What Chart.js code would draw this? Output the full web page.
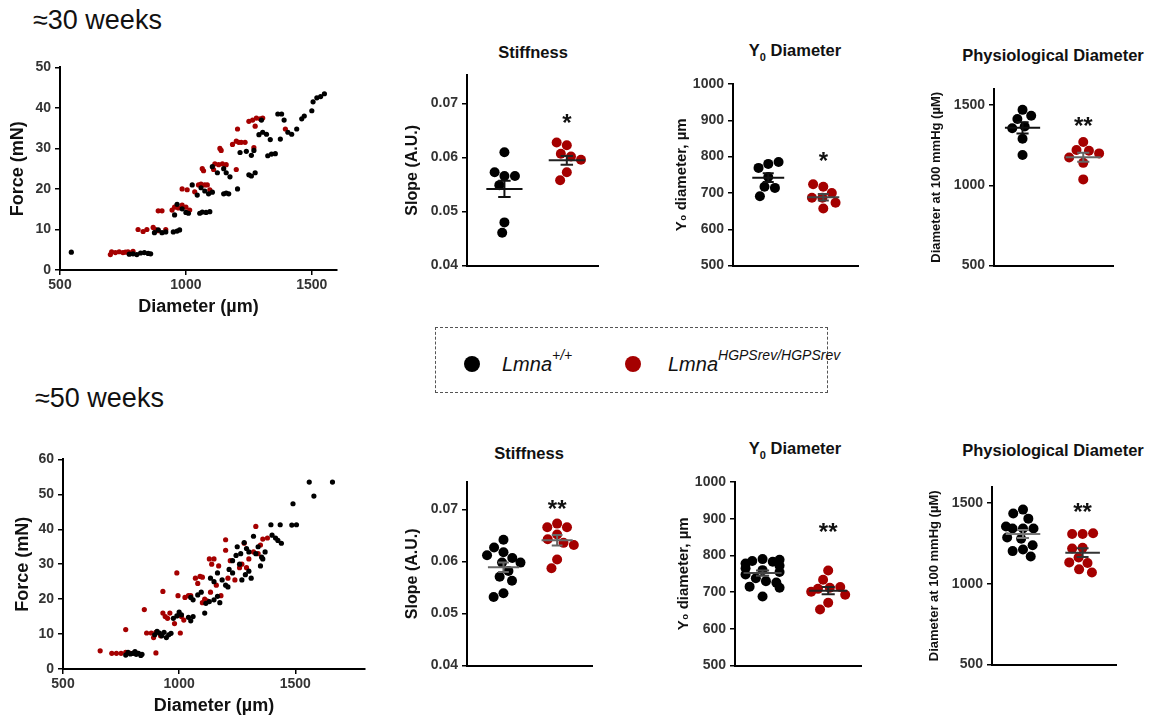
<!DOCTYPE html>
<html lang="en">
<head>
<meta charset="UTF-8">
<title>Lmna arteries - stiffness and diameter</title>
<script src="https://cdn.jsdelivr.net/npm/chart.js"></script>
<style>
    body { margin: 0; background: #fff; font-family: "Liberation Sans", Arial, sans-serif; }
    #page { position: relative; width: 1156px; height: 720px; overflow: hidden; }
    canvas { position: absolute; }
    .age { position: absolute; font-size: 27px; color: #111; }
    .ptitle { position: absolute; font-weight: bold; font-size: 16.5px; color: #111;
              transform: translate(-50%, -50%); white-space: nowrap; }
    .ptitle sub { font-size: 11px; }
    #legend { position: absolute; left: 435px; top: 327px; width: 391px; height: 64px;
              border: 1px dashed #555; }
    .ldot { position: absolute; width: 16px; height: 16px; border-radius: 50%; top: 28px; }
    .ltext { position: absolute; top: 22px; font-size: 20px; font-style: italic; color: #111; }
    .ltext sup { font-size: 14px; position: relative; top: -3px; }
</style>
</head>
<body>
<div id="page">
    <div class="age" style="left:33px; top:5px;">≈30 weeks</div>
    <div class="age" style="left:35px; top:383px;">≈50 weeks</div>

    <div class="ptitle" style="left:533px; top:52px;">Stiffness</div>
    <div class="ptitle" style="left:795px; top:52px;">Y<sub>0</sub> Diameter</div>
    <div class="ptitle" style="left:1053px; top:55px;">Physiological Diameter</div>
    <div class="ptitle" style="left:529px; top:453px;">Stiffness</div>
    <div class="ptitle" style="left:795px; top:450px;">Y<sub>0</sub> Diameter</div>
    <div class="ptitle" style="left:1053px; top:450px;">Physiological Diameter</div>

    <div id="legend">
        <div class="ldot" style="left:28px; background:#000;"></div>
        <div class="ltext" style="left:66px;">Lmna<sup>+/+</sup></div>
        <div class="ldot" style="left:189px; background:#a50000;"></div>
        <div class="ltext" style="left:232px;">Lmna<sup>HGPSrev/HGPSrev</sup></div>
    </div>

    <canvas id="scatter30"></canvas>
    <canvas id="stiff30"></canvas>
    <canvas id="y030"></canvas>
    <canvas id="phys30"></canvas>
    <canvas id="scatter50"></canvas>
    <canvas id="stiff50"></canvas>
    <canvas id="y050"></canvas>
    <canvas id="phys50"></canvas>
</div>

<script>
    const WT_COLOR = "#000000";
    const HG_COLOR = "#a50000";
    const FONT = '"Liberation Sans", Arial, sans-serif';
    Chart.defaults.font.family = FONT;

    // tick labels
    const diamTicks = [500, 1000, 1500];
    const force30Ticks = [0, 10, 20, 30, 40, 50];
    const force50Ticks = [0, 10, 20, 30, 40, 50, 60];
    const slopeTicks = [0.04, 0.05, 0.06, 0.07];
    const y0Ticks = [500, 600, 700, 800, 900, 1000];
    const physTicks = [500, 1000, 1500];

    // --- force / diameter curves, [diameter, force] ---
    const wt30 = [[545,4.4],[775,3.9],[790,4.0],[805,3.8],[820,4.2],[835,4.3],[850,4.1],[860,4.0],
        [875,9.2],[890,9.9],[905,9.2],[920,9.4],[950,9.4],[965,9.6],[975,9.9],
        [955,13.6],[965,16.2],[985,15.1],[1000,14.2],[1010,14.0],
        [1055,14.0],[1065,14.3],[1080,14.2],[1095,14.4],
        [1025,21.0],[1045,18.5],[1060,20.3],[1075,19.5],[1090,18.8],[1105,19.2],
        [1150,18.8],[1160,19.0],[1170,18.8],[1205,20.0],
        [1105,25.5],[1125,24.0],[1150,25.0],[1160,24.0],[1175,23.0],[1250,23.5],[1260,23.2],[1275,24.0],
        [1215,29.0],[1240,29.3],[1260,28.3],[1270,29.5],[1325,28.2],[1340,28.6],[1355,28.7],
        [1290,33.4],[1305,34.0],[1320,33.5],[1335,32.2],[1375,32.3],[1405,34.0],[1420,33.5],[1440,34.8],
        [1300,37.0],[1365,38.5],[1380,38.5],[1390,37.0],[1460,37.3],[1470,38.0],[1500,39.3],
        [1505,41.5],[1520,42.5],[1535,42.8],[1550,43.5]];
    const hg30 = [[700,3.8],[705,4.5],[720,4.3],[735,4.5],[750,4.3],[760,4.4],[770,4.5],[780,4.2],[790,4.6],
        [810,10.0],[830,9.5],[845,10.0],[870,10.5],[880,10.0],[890,9.7],[920,10.0],
        [890,14.6],[905,14.6],[945,14.8],[955,15.5],[970,15.3],[985,16.0],[1000,15.5],[1015,14.8],
        [985,20.0],[1005,19.8],[1035,19.3],[1050,21.0],[1060,21.2],[1075,21.0],[1085,21.0],[1095,19.8],
        [1065,25.0],[1070,24.5],[1110,24.8],[1115,26.2],[1130,26.0],[1145,26.2],[1160,26.0],[1200,24.8],
        [1135,30.0],[1140,29.5],[1185,31.0],[1200,31.8],[1210,31.5],[1220,31.5],[1235,31.5],[1270,30.2],
        [1205,34.8],[1250,36.7],[1265,37.0],[1280,37.5],[1295,37.3],[1305,37.5],[1275,35.5],[1395,34.8]];
    const wt50 = [[770,4.0],[780,4.8],[790,4.3],[800,4.5],[810,5.0],[815,4.2],[825,4.5],[835,3.9],[840,4.2],
        [895,9.8],[905,10.8],[915,10.3],[925,9.5],[935,10.5],[945,9.0],[955,9.8],[965,10.2],
        [975,14.5],[990,15.2],[1000,16.3],[1010,15.5],[1040,14.8],[1050,13.8],[1060,15.0],
        [1050,20.5],[1060,19.8],[1080,21.2],[1095,22.0],[1110,16.0],[1115,18.8],[1130,19.3],[1150,19.8],[1165,20.8],
        [1135,26.0],[1150,25.0],[1165,27.5],[1175,19.0],[1185,25.5],[1200,24.0],[1210,23.5],[1215,28.5],[1230,27.5],
        [1230,31.0],[1245,32.5],[1250,35.0],[1260,30.0],[1265,33.0],[1280,36.2],[1290,34.5],[1300,33.5],[1320,38.0],[1340,35.0],
        [1270,25.5],[1285,27.0],[1300,28.0],[1310,26.0],[1350,29.5],[1360,31.5],
        [1330,33.0],[1355,32.0],[1370,33.5],[1400,38.3],[1415,37.5],[1425,36.8],[1440,36.0],
        [1395,41.3],[1435,41.3],[1485,41.2],[1505,41.3],
        [1490,47.3],[1560,53.5],[1580,49.5],[1660,53.5]];
    const hg50 = [[660,5.2],[710,4.5],[730,4.5],[750,4.5],[770,11.3],[770,4.8],[790,4.5],[800,4.5],[820,4.5],
        [850,17.0],[900,4.6],[860,10.3],[880,10.3],[890,9.0],[900,10.5],[920,9.5],[930,22.2],[930,16.0],
        [940,15.0],[950,14.5],[960,16.0],[980,13.0],[990,27.5],[995,21.0],[1000,15.5],[1005,10.3],[1010,15.0],[1020,14.0],[1025,20.5],
        [1040,21.0],[1050,21.0],[1070,26.0],[1080,24.5],[1090,26.5],[1100,19.0],[1100,26.3],[1110,20.0],[1120,19.5],
        [1130,31.5],[1135,22.0],[1140,30.0],[1150,31.5],[1160,24.0],[1170,29.5],[1180,21.0],[1200,34.0],[1200,37.0],
        [1220,31.0],[1210,26.0],[1240,25.5],[1260,29.0],[1270,30.0],[1280,36.0],[1290,29.0],[1300,31.5],[1320,33.5],
        [1330,40.8],[1340,33.0],[1350,35.5],[1360,37.2],[1380,37.5]];

    // --- dot plots: [Lmna+/+, LmnaHGPSrev] ---
    const stiff30WT = [0.0610, 0.0566, 0.0573, 0.0566, 0.0549, 0.0480, 0.0461];
    const stiff30HG = [0.0623, 0.0628, 0.0607, 0.0602, 0.0596, 0.0573, 0.0558];
    const stiff30Mean = [0.0542, 0.0595];
    const stiff30Sem = [0.0015, 0.0008];

    const y030WT = [780, 769, 785, 744, 717, 714, 691];
    const y030HG = [717, 724, 700, 687, 687, 673, 657];
    const y030Mean = [742, 688];
    const y030Sem = [12, 9];

    const phys30WT = [1470, 1413, 1433, 1366, 1356, 1290, 1189];
    const phys30HG = [1270, 1220, 1215, 1199, 1173, 1140, 1037];
    const phys30Mean = [1358, 1175];
    const phys30Sem = [35, 28];

    const stiff50WT = [0.0642, 0.0618, 0.0627, 0.0607, 0.0598, 0.0612, 0.0598, 0.0582, 0.0571, 0.0563, 0.0539, 0.0532];
    const stiff50HG = [0.0673, 0.0666, 0.0666, 0.0652, 0.0643, 0.0636, 0.0632, 0.0604, 0.0587];
    const stiff50Mean = [0.0589, 0.0641];
    const stiff50Sem = [0.0009, 0.0010];

    const y050WT = [790, 785, 783, 788, 778, 772, 765, 760, 755, 748, 738, 730, 726, 715, 712, 688];
    const y050HG = [759, 734, 712, 714, 709, 701, 693, 671, 653];
    const y050Mean = [752, 704];
    const y050Sem = [7, 10];

    const phys50WT = [1460, 1436, 1404, 1343, 1343, 1343, 1355, 1279, 1287, 1213, 1203, 1239, 1169];
    const phys50HG = [1309, 1309, 1313, 1223, 1219, 1163, 1129, 1133, 1090, 1070];
    const phys50Mean = [1309, 1193];
    const phys50Sem = [25, 27];

    // significance stars: [text, y value]
    const sig = {
        stiff30: ["*", 0.0676], y030: ["*", 805], phys30: ["**", 1407],
        stiff50: ["**", 0.0713], y050: ["**", 880], phys50: ["**", 1482]
    };

    // put a canvas so that its chart area lands on box
    function place(id, box, pad) {
        const c = document.getElementById(id);
        c.width = box.w + pad.l + pad.r;
        c.height = box.h + pad.t + pad.b;
        c.style.left = (box.x - pad.l) + "px";
        c.style.top = (box.y - pad.t) + "px";
        return c;
    }

    // stars above the mutant group
    const sigPlugin = {
        id: "sig",
        afterDatasetsDraw(chart, args, opts) {
            if (!opts.text) return;
            const { ctx, scales: { x, y } } = chart;
            ctx.save();
            ctx.font = "bold 24px " + FONT;
            ctx.fillStyle = "#111";
            ctx.textAlign = "center";
            ctx.textBaseline = "alphabetic";
            ctx.fillText(opts.text, x.getPixelForValue(2), y.getPixelForValue(opts.y) + 14);
            ctx.restore();
        }
    };

    const fixedTicks = list => s => { s.ticks = list.map(v => ({ value: v })); };

    function yAxis(min, max, tickList, title, titleSize, titlePad, fmt, pad) {
        return {
            type: "linear", min: min, max: max,
            afterBuildTicks: fixedTicks(tickList),
            afterFit: s => { s.width = pad.l; },
            border: { display: true, color: "#000", width: 2 },
            grid: { display: true, drawOnChartArea: false, drawTicks: true, tickLength: 5, color: "#000", lineWidth: 1.5 },
            ticks: { color: "#333", padding: 4, autoSkip: false,
                     font: { size: 14, weight: "bold" }, callback: fmt },
            title: { display: true, text: title, color: "#111", padding: { top: titlePad, bottom: 0 },
                     font: { size: titleSize, weight: "bold" } }
        };
    }

    function scatterChart(id, box, wt, hg, xMax, yMax, yTicks, titlePadY) {
        const pad = { l: box.x, r: 10, t: 12, b: 50 };
        place(id, box, pad);
        const toPts = arr => arr.map(p => ({ x: p[0], y: p[1] }));
        return new Chart(document.getElementById(id), {
            type: "scatter",
            data: {
                datasets: [
                    { data: toPts(wt), backgroundColor: WT_COLOR, pointRadius: 2.6, borderWidth: 0 },
                    { data: toPts(hg), backgroundColor: HG_COLOR, pointRadius: 2.6, borderWidth: 0 }
                ]
            },
            options: {
                responsive: false, animation: false,
                layout: { padding: { top: pad.t, right: pad.r, left: 0, bottom: 0 } },
                plugins: { legend: { display: false }, tooltip: { enabled: false } },
                scales: {
                    x: {
                        type: "linear", min: 500, max: xMax,
                        afterBuildTicks: fixedTicks(diamTicks),
                        afterFit: s => { s.height = pad.b; },
                        border: { display: true, color: "#000", width: 2 },
                        grid: { display: true, drawOnChartArea: false, drawTicks: true, tickLength: 5, color: "#000", lineWidth: 1.5 },
                        ticks: { color: "#333", padding: 2, maxRotation: 0, autoSkip: false,
                                 font: { size: 14, weight: "bold" }, callback: v => String(v) },
                        title: { display: true, text: "Diameter (µm)", color: "#111", padding: { top: 0, bottom: 2 },
                                 font: { size: 18, weight: "bold" } }
                    },
                    y: yAxis(0, yMax, yTicks, "Force (mN)", 18, titlePadY, v => String(v), pad)
                }
            }
        });
    }

    // simple beeswarm in pixel space around a group centre, width capped
    function swarm(values, group, xs, ys, d, maxOff) {
        const placed = [];
        const cx = xs.getPixelForValue(group);
        return values.map(v => {
            const py = ys.getPixelForValue(v);
            const ints = [];
            const cands = [0];
            placed.forEach(p => {
                const dy = Math.abs(p.y - py);
                if (dy < d) {
                    const dx = Math.sqrt(d * d - dy * dy);
                    ints.push([p.x - dx, p.x + dx]);
                    cands.push(p.x - dx, p.x + dx);
                }
            });
            cands.sort((a, b) => Math.abs(a) - Math.abs(b));
            let off = 0;
            for (const c of cands) {
                if (ints.every(iv => c <= iv[0] + 1e-6 || c >= iv[1] - 1e-6)) { off = c; break; }
            }
            off = Math.max(-maxOff, Math.min(maxOff, off));
            placed.push({ x: off, y: py });
            return { x: xs.getValueForPixel(cx + off), y: v };
        });
    }

    function dotChart(id, box, o) {
        const pad = { l: 70, r: 8, t: 14, b: 8 };
        place(id, box, pad);
        const lines = [];
        [0, 1].forEach(i => {
            const g = i + 1, m = o.mean[i], s = o.sem[i];
            const col = o.lineColor[i];
            const seg = (pts) => lines.push({ type: "line", data: pts, showLine: true, borderColor: col,
                borderWidth: 2, pointRadius: 0, fill: false, order: 0 });
            seg([{ x: g - 0.29, y: m }, { x: g + 0.29, y: m }]);
            seg([{ x: g, y: m - s }, { x: g, y: m + s }]);
            seg([{ x: g - 0.1, y: m + s }, { x: g + 0.1, y: m + s }]);
            seg([{ x: g - 0.1, y: m - s }, { x: g + 0.1, y: m - s }]);
        });
        const chart = new Chart(document.getElementById(id), {
            type: "scatter",
            data: {
                datasets: lines.concat([
                    { data: o.wt.map(v => ({ x: 1, y: v })), backgroundColor: WT_COLOR, pointRadius: 5, borderWidth: 0, order: 1 },
                    { data: o.hg.map(v => ({ x: 2, y: v })), backgroundColor: HG_COLOR, pointRadius: 5, borderWidth: 0, order: 1 }
                ])
            },
            options: {
                responsive: false, animation: false,
                layout: { padding: { top: pad.t, right: pad.r, left: 0, bottom: 0 } },
                plugins: { legend: { display: false }, tooltip: { enabled: false },
                           sig: { text: o.sig[0], y: o.sig[1] } },
                scales: {
                    x: {
                        type: "linear", min: o.xr[0], max: o.xr[1],
                        afterFit: s => { s.height = pad.b; },
                        border: { display: true, color: "#000", width: 2 },
                        grid: { display: false },
                        ticks: { display: false }
                    },
                    y: yAxis(o.yr[0], o.yr[1], o.ticks, o.title, o.titleSize, o.titlePad, o.fmt, pad)
                }
            },
            plugins: [sigPlugin]
        });
        const xs = chart.scales.x, ys = chart.scales.y;
        const n = chart.data.datasets.length;
        chart.data.datasets[n - 2].data = swarm(o.wt, 1, xs, ys, 10.5, 17);
        chart.data.datasets[n - 1].data = swarm(o.hg, 2, xs, ys, 10.5, 17);
        chart.update("none");
        return chart;
    }

    const dec2 = v => v.toFixed(2);
    const plain = v => String(v);

    scatterChart("scatter30", { x: 60, y: 67, w: 277, h: 203 }, wt30, hg30, 1600, 50, force30Ticks, 7);
    scatterChart("scatter50", { x: 63, y: 459, w: 302, h: 210 }, wt50, hg50, 1800, 60, force50Ticks, 12);

    dotChart("stiff30", { x: 467, y: 75, w: 131, h: 195 }, {
        wt: stiff30WT, hg: stiff30HG, mean: stiff30Mean, sem: stiff30Sem, sig: sig.stiff30,
        xr: [0.4, 2.5], yr: [0.04, 0.0753], ticks: slopeTicks, fmt: dec2,
        title: "Slope (A.U.)", titleSize: 16, titlePad: 6, lineColor: ["#111", "#222"]
    });
    dotChart("y030", { x: 733, y: 84, w: 125, h: 186 }, {
        wt: y030WT, hg: y030HG, mean: y030Mean, sem: y030Sem, sig: sig.y030,
        xr: [0.36, 2.63], yr: [500, 1000], ticks: y0Ticks, fmt: plain,
        title: "Y₀ diameter, µm", titleSize: 15, titlePad: 10, lineColor: ["#111", "#444"]
    });
    dotChart("phys30", { x: 994, y: 89, w: 119, h: 181 }, {
        wt: phys30WT, hg: phys30HG, mean: phys30Mean, sem: phys30Sem, sig: sig.phys30,
        xr: [0.53, 2.49], yr: [500, 1600], ticks: physTicks, fmt: plain,
        title: "Diameter at 100 mmHg (µM)", titleSize: 13, titlePad: 5, lineColor: ["#111", "#666"]
    });
    dotChart("stiff50", { x: 467, y: 482, w: 125, h: 188 }, {
        wt: stiff50WT, hg: stiff50HG, mean: stiff50Mean, sem: stiff50Sem, sig: sig.stiff50,
        xr: [0.32, 2.65], yr: [0.04, 0.0753], ticks: slopeTicks, fmt: dec2,
        title: "Slope (A.U.)", titleSize: 16, titlePad: 6, lineColor: ["#666", "#666"]
    });
    dotChart("y050", { x: 735, y: 482, w: 126, h: 188 }, {
        wt: y050WT, hg: y050HG, mean: y050Mean, sem: y050Sem, sig: sig.y050,
        xr: [0.58, 2.5], yr: [500, 1000], ticks: y0Ticks, fmt: plain,
        title: "Y₀ diameter, µm", titleSize: 15, titlePad: 10, lineColor: ["#444", "#222"]
    });
    dotChart("phys50", { x: 992, y: 487, w: 124, h: 182 }, {
        wt: phys50WT, hg: phys50HG, mean: phys50Mean, sem: phys50Sem, sig: sig.phys50,
        xr: [0.48, 2.56], yr: [500, 1600], ticks: physTicks, fmt: plain,
        title: "Diameter at 100 mmHg (µM)", titleSize: 13, titlePad: 5, lineColor: ["#777", "#333"]
    });
</script>
</body>
</html>
